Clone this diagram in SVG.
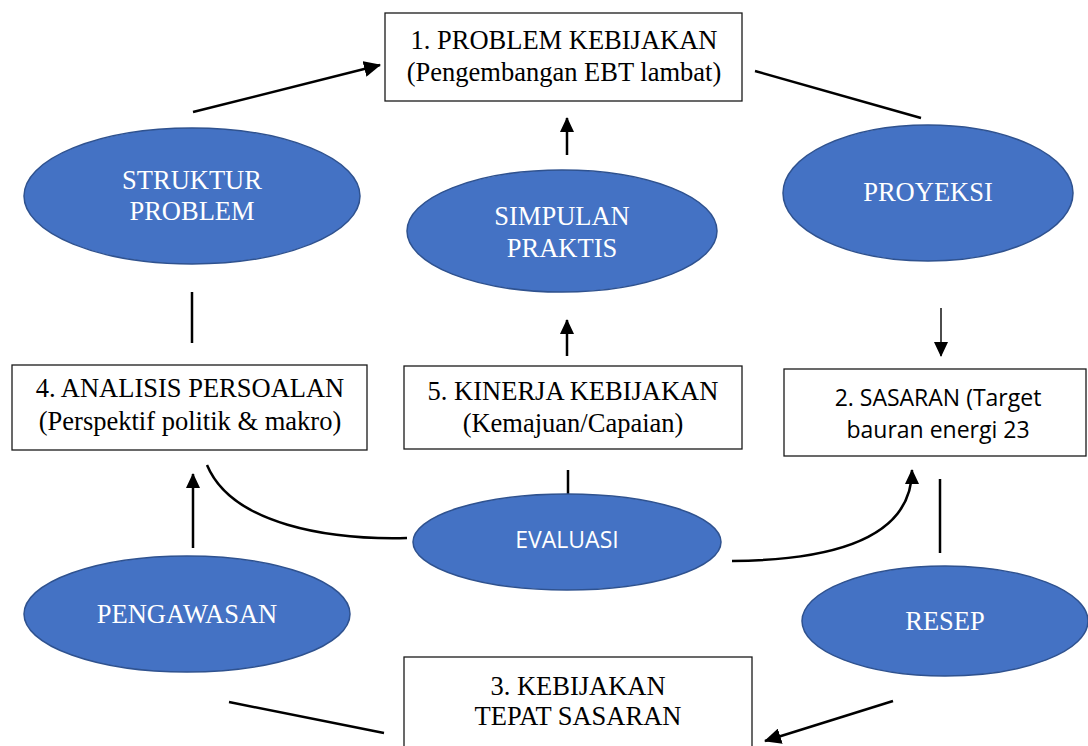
<svg xmlns="http://www.w3.org/2000/svg" width="1088" height="746" viewBox="0 0 1088 746">
<style>
.box{fill:#fff;stroke:#1a1a1a;stroke-width:1.3}
.ell{fill:#4472C4;stroke:#2F528F;stroke-width:1.5}
.t{font-family:"Liberation Serif",serif;font-size:26.5px;fill:#000;text-anchor:middle}
.tw{font-family:"Liberation Serif",serif;font-size:26.5px;fill:#fff;text-anchor:middle}
.s{font-family:"Open Sans","Liberation Sans",sans-serif;font-size:23px;fill:#000;text-anchor:middle}
.sw{font-family:"Open Sans","Liberation Sans",sans-serif;font-size:23px;fill:#fff;text-anchor:middle}
.c{fill:none;stroke:#000;stroke-width:2.5}
.thin{fill:none;stroke:#000;stroke-width:1.4}
</style>
<defs>
<marker id="ah" markerUnits="userSpaceOnUse" markerWidth="18" markerHeight="16" refX="16" refY="8" orient="auto">
<path d="M0,0 L17,8 L0,16 Z" fill="#000"/>
</marker>
<marker id="ahs" markerUnits="userSpaceOnUse" markerWidth="16" markerHeight="14" refX="14" refY="7" orient="auto">
<path d="M0,0 L15,7 L0,14 Z" fill="#000"/>
</marker>
</defs>
<g id="connectors">
<line class="c" x1="193" y1="112" x2="380" y2="65" marker-end="url(#ah)"/>
<line class="c" x1="755" y1="71" x2="921" y2="118"/>
<line class="c" x1="567" y1="155" x2="567" y2="118" marker-end="url(#ahs)"/>
<line class="c" x1="567" y1="356" x2="567" y2="320" marker-end="url(#ahs)"/>
<line class="c" x1="192" y1="292" x2="192" y2="343"/>
<line class="thin" x1="941" y1="308" x2="941" y2="356" marker-end="url(#ahs)"/>
<line class="c" x1="568" y1="470" x2="568" y2="502"/>
<path class="c" d="M207,465 C232,525 330,540 407,538"/>
<line class="c" x1="193" y1="548" x2="193" y2="474" marker-end="url(#ahs)"/>
<path class="c" d="M732,561 C850,560 912,530 912,470" marker-end="url(#ahs)"/>
<line class="c" x1="940" y1="479" x2="940" y2="553"/>
<line class="c" x1="229" y1="702" x2="384" y2="733"/>
<line class="c" x1="893" y1="701" x2="765" y2="741" marker-end="url(#ah)"/>
</g>
<g id="n1">
<rect class="box" x="385" y="13" width="357" height="88"/>
<text class="t" x="564" y="49">1. PROBLEM KEBIJAKAN</text>
<text class="t" x="564" y="81">(Pengembangan EBT lambat)</text>
</g>
<g id="n2">
<rect class="box" x="784" y="369" width="302" height="87"/>
<text class="s" x="938" y="406">2. SASARAN (Target</text>
<text class="s" x="938" y="438">bauran energi 23</text>
</g>
<g id="n3">
<rect class="box" x="404" y="657" width="348" height="100"/>
<text class="t" x="578" y="695">3. KEBIJAKAN</text>
<text class="t" x="578" y="725">TEPAT SASARAN</text>
</g>
<g id="n4">
<rect class="box" x="12" y="365" width="355" height="85"/>
<text class="t" x="190" y="397">4. ANALISIS PERSOALAN</text>
<text class="t" x="190" y="430">(Perspektif politik &amp; makro)</text>
</g>
<g id="n5">
<rect class="box" x="404" y="366" width="338" height="83"/>
<text class="t" x="573" y="400">5. KINERJA KEBIJAKAN</text>
<text class="t" x="573" y="432">(Kemajuan/Capaian)</text>
</g>
<g id="e1">
<ellipse class="ell" cx="192" cy="196" rx="168" ry="68"/>
<text class="tw" x="192" y="189">STRUKTUR</text>
<text class="tw" x="192" y="220">PROBLEM</text>
</g>
<g id="e2">
<ellipse class="ell" cx="562" cy="231" rx="155" ry="61"/>
<text class="tw" x="562" y="225">SIMPULAN</text>
<text class="tw" x="562" y="257">PRAKTIS</text>
</g>
<g id="e3">
<ellipse class="ell" cx="928" cy="193" rx="145" ry="68"/>
<text class="tw" x="928" y="201">PROYEKSI</text>
</g>
<g id="e4">
<ellipse class="ell" cx="567" cy="542" rx="154" ry="48"/>
<text class="sw" x="567" y="548">EVALUASI</text>
</g>
<g id="e5">
<ellipse class="ell" cx="187" cy="614" rx="163" ry="58"/>
<text class="tw" x="187" y="623">PENGAWASAN</text>
</g>
<g id="e6">
<ellipse class="ell" cx="945" cy="621" rx="143" ry="55"/>
<text class="tw" x="945" y="630">RESEP</text>
</g>
</svg>
